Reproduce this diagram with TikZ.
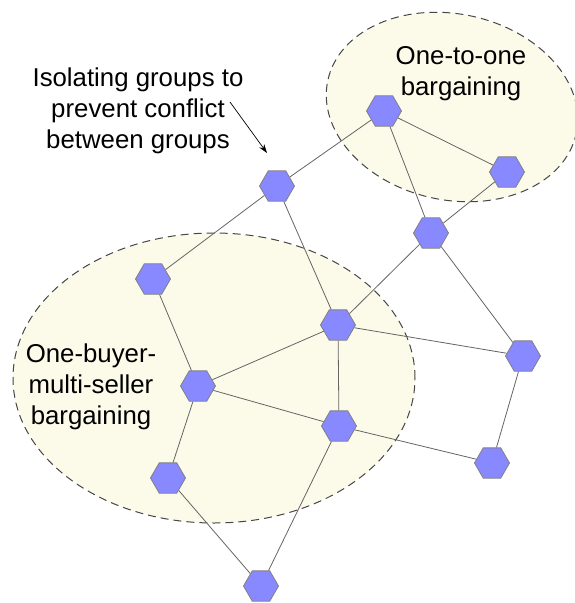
\documentclass[tikz,border=0pt]{standalone}
\usepackage{fontspec}
\setmainfont{Liberation Sans}
\usetikzlibrary{shapes.geometric,arrows.meta,backgrounds}
\definecolor{hexfill}{RGB}{136,136,255}
\definecolor{hexline}{RGB}{128,128,128}
\definecolor{edgecol}{RGB}{100,100,100}
\definecolor{zonefill}{RGB}{252,251,234}
\definecolor{zoneline}{RGB}{70,70,70}
\tikzset{
  hexnode/.style={regular polygon, regular polygon sides=6, minimum size=35pt, inner sep=0pt,
    fill=hexfill, draw=hexline, line width=0.8pt},
  link/.style={draw=edgecol, line width=0.8pt},
  zone/.style={fill=zonefill, draw=zoneline, dash pattern=on 8pt off 5pt, line width=1pt},
  lbl/.style={align=center, font=\fontsize{25.8}{31}\selectfont, inner sep=0pt},
}
\begin{document}
\begin{tikzpicture}[x=1pt, y=-1pt]
\useasboundingbox (0,0) rectangle (574,603);
% nodes
\node[hexnode] (A) at (384,111) {};
\node[hexnode] (B) at (507,172) {};
\node[hexnode] (C) at (277,186) {};
\node[hexnode] (D) at (431,233) {};
\node[hexnode] (E) at (153,279) {};
\node[hexnode] (F) at (338,325) {};
\node[hexnode] (G) at (523,356) {};
\node[hexnode] (H) at (198,386) {};
\node[hexnode] (I) at (339,426) {};
\node[hexnode] (J) at (492,463) {};
\node[hexnode] (K) at (168,478) {};
\node[hexnode] (L) at (261,586) {};
\begin{scope}[on background layer]
% zones
\draw[zone, shift={(452,107)}, rotate=-12] (0,0) ellipse [x radius=127pt, y radius=93pt];
\draw[zone] (214,378) ellipse [x radius=201pt, y radius=145pt];
% edges
\path[link] (A) -- (C) (A) -- (B) (A) -- (D) (B) -- (D)
  (C) -- (E) (C) -- (F) (D) -- (F) (D) -- (G)
  (E) -- (H) (F) -- (H) (F) -- (I) (F) -- (G)
  (H) -- (I) (H) -- (K) (I) -- (J) (G) -- (J)
  (K) -- (L) (I) -- (L);
\end{scope}
% labels
\node[lbl] (t1) at (461,74) {One-to-one\\bargaining};
\node[lbl] (t2) at (138,111) {Isolating groups to\\prevent conflict\\between groups};
\node[lbl] (t3) at (91,387) {One-buyer-\\multi-seller\\bargaining};
\coordinate (ar1) at (230,102);
\coordinate (ar2) at (267,153);
\draw[line width=0.7pt, -{Stealth[length=9pt, width=6pt]}] (ar1) -- (ar2);
\end{tikzpicture}
\end{document}
